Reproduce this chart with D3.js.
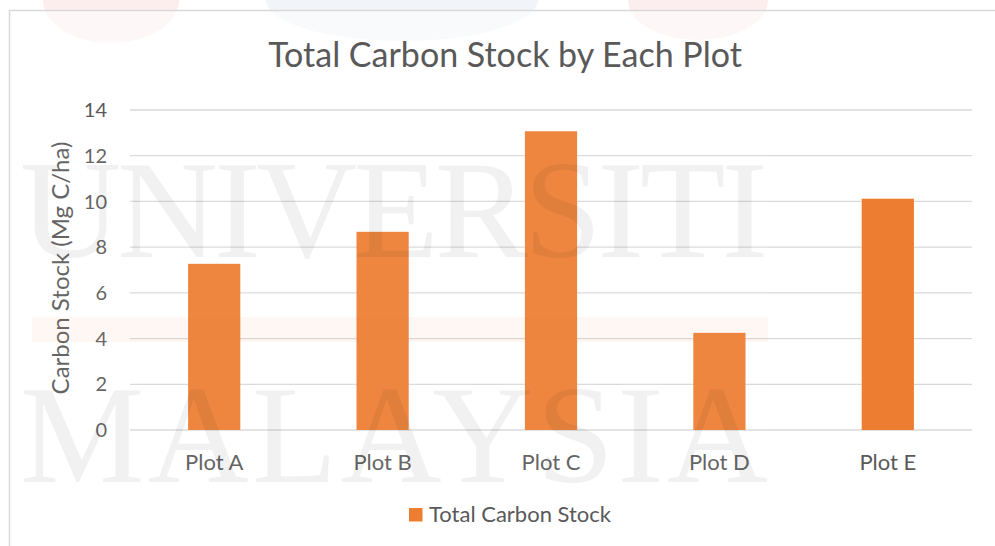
<!DOCTYPE html>
<html>
<head>
<meta charset="utf-8">
<script src="https://cdn.jsdelivr.net/npm/d3@7"></script>
<style>
  html, body { margin: 0; padding: 0; background: #fff; }
  svg { display: block; }
  text { font-family: Lato, "Open Sans", sans-serif; }
</style>
</head>
<body>
<svg id="chart" width="995" height="546"></svg>
<script>
const plots = ["Plot A", "Plot B", "Plot C", "Plot D", "Plot E"];
const carbonStock = [7.27, 8.67, 13.07, 4.25, 10.12];
const yTicks = [0, 2, 4, 6, 8, 10, 12, 14];
const seriesName = "Total Carbon Stock";
const title = "Total Carbon Stock by Each Plot";
const yTitle = "Carbon Stock (Mg C/ha)";

const plotLeft = 130, plotRight = 972, plotTop = 110, plotBottom = 430;
const barColor = "#ED7D31";
const textColor = "#595959";
const gridColor = "#D9D9D9";

const svg = d3.select("#chart");

// faint blobs from the page behind the chart
const blobs = svg.append("g").attr("opacity", 0.8);
blobs.append("ellipse").attr("cx", 111).attr("cy", 0).attr("rx", 68).attr("ry", 43).attr("fill", "#FCEAEA");
blobs.append("ellipse").attr("cx", 402).attr("cy", 0).attr("rx", 136).attr("ry", 41).attr("fill", "#EEF3F8");
blobs.append("ellipse").attr("cx", 698).attr("cy", 0).attr("rx", 70).attr("ry", 40).attr("fill", "#FCEAEA");

// chart border (right and bottom edges run off the picture)
svg.append("rect")
    .attr("x", 9.5).attr("y", 10.5)
    .attr("width", 1000).attr("height", 600)
    .attr("fill", "#fff")
    .attr("fill-opacity", 0.5)
    .attr("stroke", gridColor)
    .attr("stroke-width", 1.5);

const x = d3.scaleBand()
    .domain(plots)
    .range([plotLeft, plotRight])
    .paddingInner(0.69)
    .paddingOuter(0.345);

const y = d3.scaleLinear()
    .domain([0, 14])
    .range([plotBottom, plotTop]);

// gridlines
svg.append("g")
    .selectAll("line")
    .data(yTicks)
    .enter().append("line")
    .attr("x1", plotLeft).attr("x2", plotRight)
    .attr("y1", d => y(d)).attr("y2", d => y(d))
    .attr("stroke", gridColor)
    .attr("stroke-width", 1.3);

// bars
svg.append("g")
    .selectAll("rect")
    .data(plots)
    .enter().append("rect")
    .attr("x", d => x(d))
    .attr("width", x.bandwidth())
    .attr("y", (d, i) => y(carbonStock[i]))
    .attr("height", (d, i) => y(0) - y(carbonStock[i]))
    .attr("fill", barColor);

// y tick labels
svg.append("g")
    .selectAll("text")
    .data(yTicks)
    .enter().append("text")
    .attr("x", 107)
    .attr("y", d => y(d))
    .attr("dy", "0.36em")
    .attr("text-anchor", "end")
    .style("font-size", "20px")
    .style("fill", textColor)
    .text(d => d);

// x category labels
svg.append("g")
    .selectAll("text")
    .data(plots)
    .enter().append("text")
    .attr("x", d => x(d) + x.bandwidth() / 2)
    .attr("y", 470)
    .attr("text-anchor", "middle")
    .style("font-size", "22px")
    .style("fill", textColor)
    .text(d => d);

// axis title
svg.append("text")
    .attr("transform", "translate(61, 268) rotate(-90)")
    .attr("dy", "0.35em")
    .attr("text-anchor", "middle")
    .style("font-size", "24px")
    .style("fill", textColor)
    .text(yTitle);

// chart title
svg.append("text")
    .attr("x", 505)
    .attr("y", 67)
    .attr("text-anchor", "middle")
    .style("font-size", "34px")
    .style("fill", textColor)
    .text(title);

// legend
const legend = svg.append("g");
legend.append("rect")
    .attr("x", 409).attr("y", 508)
    .attr("width", 13.5).attr("height", 13.5)
    .attr("fill", barColor);
legend.append("text")
    .attr("x", 429)
    .attr("y", 522)
    .style("font-size", "22px")
    .style("fill", textColor)
    .text(seriesName);

// university watermark over the page
const mark = svg.append("g").style("pointer-events", "none");
mark.append("rect")
    .attr("x", 18).attr("y", 125)
    .attr("width", 750).attr("height", 365)
    .attr("fill", "#fff").attr("opacity", 0.075);
mark.append("rect")
    .attr("x", 32).attr("y", 317)
    .attr("width", 736).attr("height", 25)
    .attr("fill", barColor).attr("opacity", 0.06);
mark.selectAll("text")
    .data([["UNIVERSITI", 257], ["MALAYSIA", 482]])
    .enter().append("text")
    .attr("x", 20)
    .attr("y", d => d[1])
    .attr("textLength", 748)
    .attr("lengthAdjust", "spacing")
    .style("font-family", "'Liberation Serif', 'DejaVu Serif', serif")
    .style("font-size", "140px")
    .style("fill", "#000")
    .style("opacity", 0.05)
    .text(d => d[0]);
</script>
</body>
</html>
